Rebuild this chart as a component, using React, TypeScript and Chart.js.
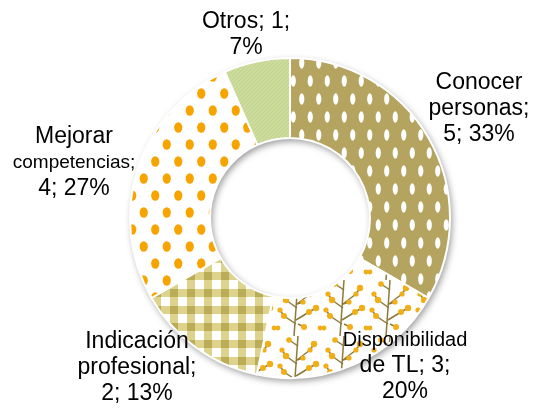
import React, { useEffect, useRef } from "react";
import { Chart, registerables } from "chart.js";

Chart.register(...registerables);

// ---- data ----
const categories = ["Conocer personas", "Disponibilidad de TL", "Indicación profesional", "Mejorar competencias", "Otros"];
const values = [5, 3, 2, 4, 1];
const percents = [33, 20, 13, 27, 7];
// how each label is broken into lines (the value/percent parts are appended from the arrays above)
const labelNameLines = [
  ["Conocer", "personas;"],
  ["Disponibilidad", "de TL;"],
  ["Indicación", "profesional;"],
  ["Mejorar", "competencias;"],
  ["Otros;"],
];

// ---- layout (label placement) ----
const labelPos = [
  { x: 479, y: 83 },
  { x: 405, y: 340 },
  { x: 137, y: 342 },
  { x: 74, y: 137 },
  { x: 246, y: 22 },
];
const LINE_H = 26;
const FONT_FAMILY = '"Liberation Sans", Arial, Helvetica, sans-serif';

function buildLines(i: number): { text: string; size: number }[] {
  const name = labelNameLines[i];
  const v = values[i];
  const p = percents[i] + "%";
  const big = 23;
  switch (i) {
    case 0:
      return [{ text: name[0], size: big }, { text: name[1], size: big }, { text: `${v}; ${p}`, size: big }];
    case 1:
      return [{ text: name[0], size: 20 }, { text: `${name[1]} ${v};`, size: big }, { text: p, size: big }];
    case 2:
      return [{ text: name[0], size: big }, { text: name[1], size: big }, { text: `${v}; ${p}`, size: big }];
    case 3:
      return [{ text: name[0], size: big }, { text: name[1], size: 19 }, { text: `${v}; ${p}`, size: big }];
    default:
      return [{ text: `${name[0]} ${v};`, size: big }, { text: p, size: big }];
  }
}

function makePattern(w: number, h: number, draw: (c: CanvasRenderingContext2D) => void): CanvasPattern | string {
  const cv = document.createElement("canvas");
  cv.width = w;
  cv.height = h;
  const c = cv.getContext("2d");
  if (!c) return "#ccc";
  draw(c);
  return c.createPattern(cv, "repeat") || "#ccc";
}

function oval(c: CanvasRenderingContext2D, x: number, y: number, rx: number, ry: number) {
  c.beginPath();
  c.ellipse(x, y, rx, ry, 0, 0, Math.PI * 2);
  c.fill();
}

function buildPatterns() {
  // Conocer personas: olive with white vertical ovals
  const p0 = makePattern(17, 36, (c) => {
    c.fillStyle = "#b4a45f";
    c.fillRect(0, 0, 17, 36);
    c.fillStyle = "#ffffff";
    const rx = 2.6;
    const ry = 5.8;
    [
      [4.25, 9],
      [21.25, 9],
      [12.75, 27],
      [-4.25, 27],
      [12.75, -9],
      [-4.25, -9],
      [21.25, 45],
      [4.25, 45],
    ].forEach(([x, y]) => oval(c, x, y, rx, ry));
  });
  // Disponibilidad: white with branches and berries
  const p1 = makePattern(46, 56, (c) => {
    c.fillStyle = "#ffffff";
    c.fillRect(0, 0, 46, 56);
    c.strokeStyle = "#8c7a38";
    c.lineWidth = 1.5;
    const seg = (x1: number, y1: number, x2: number, y2: number) => {
      c.beginPath();
      c.moveTo(x1, y1);
      c.lineTo(x2, y2);
      c.stroke();
    };
    seg(18, 56, 22, 0);
    seg(20, 44, 8, 36);
    seg(20, 40, 33, 32);
    seg(21, 28, 10, 20);
    seg(21, 24, 34, 14);
    seg(22, 10, 13, 4);
    seg(8, 36, 4, 30);
    seg(33, 32, 40, 28);
    seg(34, 14, 38, 8);
    seg(22, 44, 28, 47);
    seg(21, 24, 27, 22);
    seg(10, 20, 6, 14);
    c.fillStyle = "#f2ae16";
    [
      [8, 36, 3],
      [4, 30, 2.6],
      [33, 32, 3],
      [40, 28, 3.2],
      [10, 20, 3.2],
      [6, 14, 2.6],
      [34, 14, 2.6],
      [38, 8, 3.2],
      [13, 4, 2.8],
      [28, 47, 3],
      [2, 48, 2.4],
      [44, 48, 2.4],
      [27, 22, 2.6],
    ].forEach(([x, y, r]) => {
      c.beginPath();
      c.arc(x, y, r, 0, Math.PI * 2);
      c.fill();
    });
  });
  // Indicación profesional: gingham
  const p2 = makePattern(17, 17, (c) => {
    c.fillStyle = "#ffffff";
    c.fillRect(0, 0, 17, 17);
    c.fillStyle = "rgba(208,194,96,0.72)";
    c.fillRect(0, 0, 8, 17);
    c.fillRect(0, 0, 17, 8);
    c.fillStyle = "rgba(150,135,60,0.4)";
    c.fillRect(0, 0, 8, 8);
  });
  // Mejorar competencias: white with orange dots
  const p3 = makePattern(23, 34, (c) => {
    c.fillStyle = "#ffffff";
    c.fillRect(0, 0, 23, 34);
    c.fillStyle = "#f7a400";
    oval(c, 5.75, 8.5, 4.1, 5.2);
    oval(c, 17.25, 25.5, 4.1, 5.2);
  });
  // Otros: light green with fine texture
  const p4 = makePattern(4, 4, (c) => {
    c.fillStyle = "#cbdc9c";
    c.fillRect(0, 0, 4, 4);
    c.fillStyle = "#bfd28e";
    c.fillRect(0, 3, 1, 1);
    c.fillRect(1, 2, 1, 1);
    c.fillRect(2, 1, 1, 1);
    c.fillRect(3, 0, 1, 1);
  });
  return [p0, p1, p2, p3, p4];
}

const ringShadowPlugin = {
  id: "ringShadow",
  beforeDatasetsDraw(chart: any) {
    const meta = chart.getDatasetMeta(0);
    const arc = meta.data[0];
    if (!arc) return;
    const { x, y, outerRadius, innerRadius } = arc.getProps(["x", "y", "outerRadius", "innerRadius"], true);
    const ctx = chart.ctx;
    ctx.save();
    ctx.shadowColor = "rgba(0,0,0,0.42)";
    ctx.shadowBlur = 7;
    ctx.shadowOffsetX = 2;
    ctx.shadowOffsetY = 3;
    ctx.beginPath();
    ctx.arc(x, y, outerRadius, 0, Math.PI * 2);
    ctx.arc(x, y, innerRadius, 0, Math.PI * 2, true);
    ctx.fillStyle = "#ffffff";
    ctx.fill("evenodd");
    ctx.restore();
  },
};

const labelsPlugin = {
  id: "outerLabels",
  afterDatasetsDraw(chart: any) {
    const ctx = chart.ctx;
    ctx.save();
    ctx.fillStyle = "#000000";
    ctx.textAlign = "center";
    ctx.textBaseline = "middle";
    categories.forEach((_, i) => {
      const lines = buildLines(i);
      const pos = labelPos[i];
      lines.forEach((ln, k) => {
        ctx.font = `${ln.size}px ${FONT_FAMILY}`;
        ctx.fillText(ln.text, pos.x, pos.y + k * LINE_H);
      });
    });
    ctx.restore();
  },
};

export default function App() {
  const ref = useRef<HTMLCanvasElement | null>(null);
  useEffect(() => {
    if (!ref.current) return;
    const patterns = buildPatterns();
    const chart = new Chart(ref.current, {
      type: "doughnut",
      data: {
        labels: categories,
        datasets: [
          {
            data: values,
            backgroundColor: patterns as any,
            borderColor: "#ffffff",
            borderWidth: 2,
          },
        ],
      },
      options: {
        responsive: false,
        animation: false,
        cutout: "50%",
        layout: { padding: { left: 129, right: 87, top: 57, bottom: 34 } },
        plugins: {
          legend: { display: false },
          tooltip: { enabled: false },
        },
      },
      plugins: [ringShadowPlugin, labelsPlugin],
    });
    return () => chart.destroy();
  }, []);
  return (
    <div style={{ position: "fixed", left: 0, top: 0, width: 538, height: 413, background: "#ffffff" }}>
      <canvas ref={ref} width={538} height={413} style={{ display: "block", width: 538, height: 413 }} />
    </div>
  );
}
